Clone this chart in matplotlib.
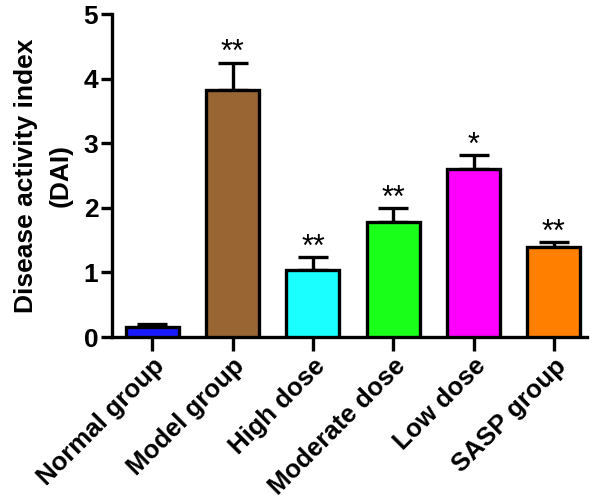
import matplotlib
matplotlib.use("Agg")
import matplotlib.pyplot as plt

categories = ["Normal group", "Model group", "High dose", "Moderate dose", "Low dose", "SASP group"]
values = [0.15, 3.82, 1.03, 1.78, 2.60, 1.39]
errors = [0.05, 0.43, 0.21, 0.22, 0.22, 0.08]
stars = ["", "**", "**", "**", "*", "**"]
colors = ["#1a1aff", "#996633", "#1affff", "#1aff1a", "#ff00ff", "#ff8000"]
yticks = [0, 1, 2, 3, 4, 5]

plt.rcParams['font.family'] = ['Liberation Sans', 'DejaVu Sans']

fig = plt.figure(figsize=(6.0, 5.03), dpi=100)
ax = fig.add_axes([0.187, 0.33, 0.791, 0.642])

x = list(range(len(categories)))
ax.bar(x, values, width=0.66, color=colors, edgecolor="black", linewidth=2.4, zorder=3)
for xi, v, e in zip(x, values, errors):
    ax.errorbar([xi], [v], yerr=[[0], [e]], fmt="none", ecolor="black",
                elinewidth=2.4, capsize=10.5, capthick=2.4, zorder=2)
for xi, v, e, s in zip(x, values, errors, stars):
    if s:
        ax.text(xi, v + e - 0.09, s, ha="center", va="bottom", fontsize=22, color="black")

ax.set_xlim(-0.5, 5.41)
ax.set_ylim(0, 5)
ax.set_yticks(yticks)
ax.set_yticklabels([str(t) for t in yticks], fontsize=19, fontweight="bold")
ax.set_xticks(x)
ax.set_xticklabels(categories, rotation=45, ha="right", rotation_mode="anchor",
                   fontsize=18.5, fontweight="bold")
ax.set_ylabel("Disease activity index\n(DAI)", fontsize=19, fontweight="bold",
              labelpad=8, linespacing=1.55)

for side in ["top", "right"]:
    ax.spines[side].set_visible(False)
for side in ["left", "bottom"]:
    ax.spines[side].set_linewidth(2.4)
ax.tick_params(axis="y", direction="out", width=2.4, length=8, pad=2)
ax.tick_params(axis="x", direction="out", width=2.4, length=10, pad=2)

fig.savefig("out.png", dpi=100)
